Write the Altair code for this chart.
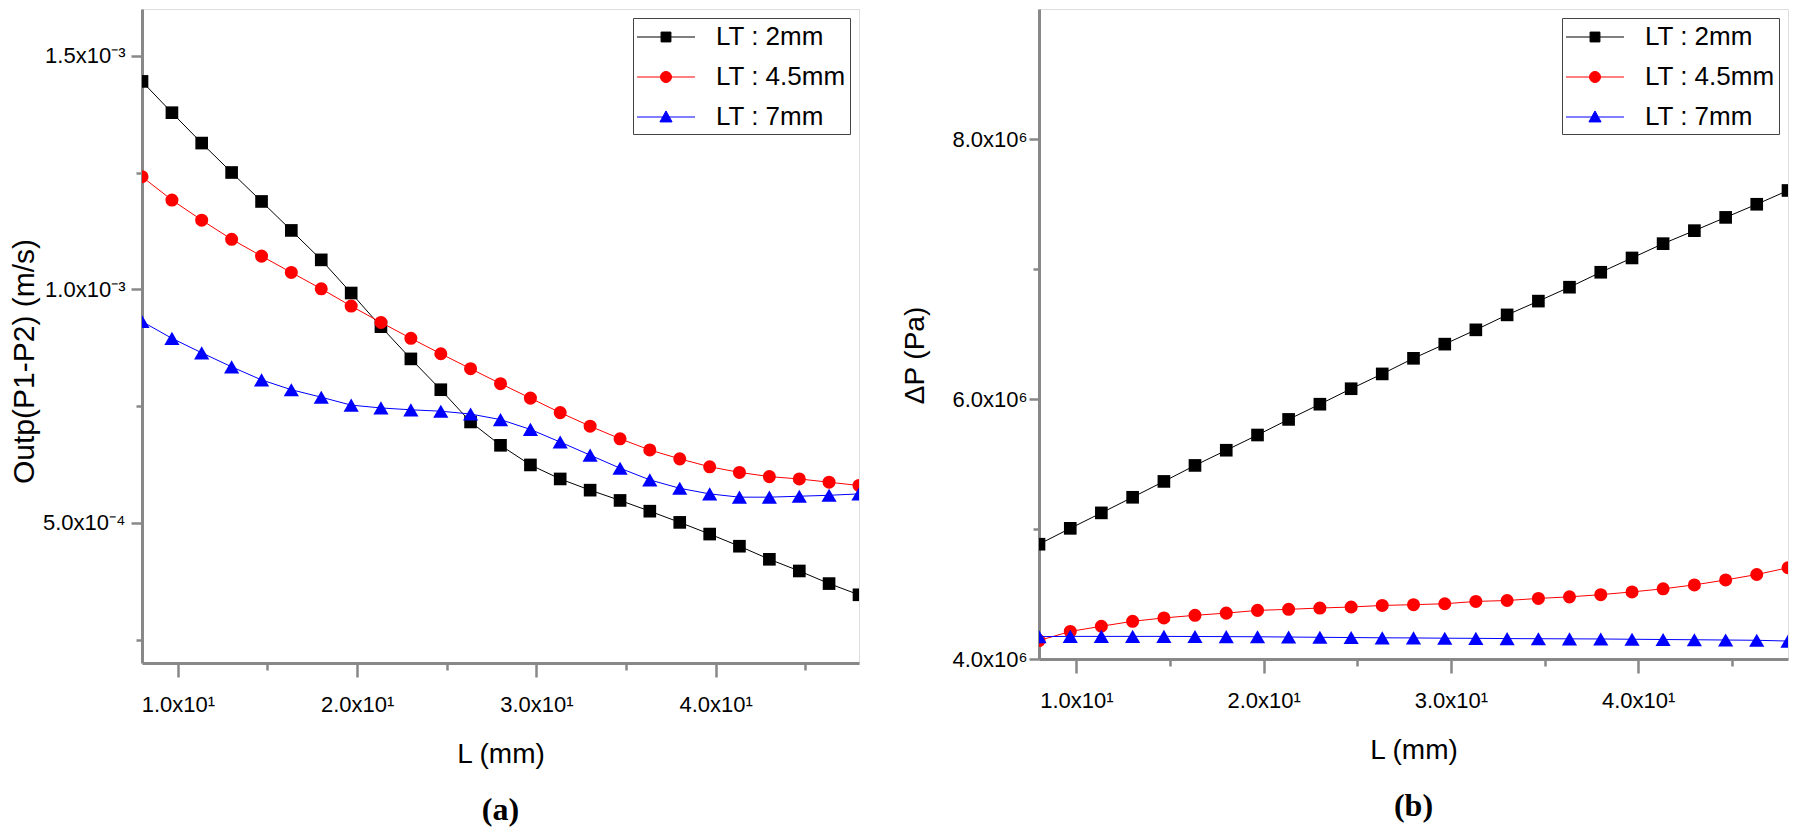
import altair as alt
import pandas as pd

# ---------------- data ----------------
L_MM = [8.0, 9.67, 11.33, 13.0, 14.67, 16.33, 18.0, 19.67, 21.33, 23.0, 24.67, 26.33,
        28.0, 29.67, 31.33, 33.0, 34.67, 36.33, 38.0, 39.67, 41.33, 43.0, 44.67, 46.33, 48.0]

SERIES = ["LT : 2mm", "LT : 4.5mm", "LT : 7mm"]

# panel (a): Outp(P1-P2) in units of 1e-3 m/s
OUT_2 = [1.445, 1.378, 1.313, 1.250, 1.188, 1.126, 1.063, 0.992, 0.920, 0.851, 0.785, 0.716,
         0.666, 0.624, 0.594, 0.570, 0.548, 0.525, 0.501, 0.476, 0.450, 0.422, 0.397, 0.370, 0.346]
OUT_45 = [1.241, 1.191, 1.148, 1.107, 1.071, 1.036, 1.001, 0.964, 0.929, 0.895, 0.862, 0.830,
          0.798, 0.767, 0.736, 0.707, 0.680, 0.656, 0.637, 0.620, 0.608, 0.599, 0.594, 0.587, 0.580]
OUT_7 = [0.931, 0.895, 0.864, 0.834, 0.806, 0.785, 0.769, 0.752, 0.746, 0.742, 0.739, 0.733,
         0.721, 0.700, 0.673, 0.645, 0.617, 0.592, 0.574, 0.562, 0.555, 0.555, 0.557, 0.559, 0.562]

# panel (b): delta P in units of 1e6 Pa
DP_2 = [4.883, 5.005, 5.124, 5.244, 5.366, 5.489, 5.606, 5.723, 5.843, 5.960, 6.079, 6.193,
        6.313, 6.422, 6.532, 6.647, 6.753, 6.860, 6.975, 7.085, 7.195, 7.295, 7.397, 7.498, 7.604]
DP_45 = [4.142, 4.212, 4.252, 4.290, 4.316, 4.336, 4.353, 4.374, 4.382, 4.392, 4.400, 4.412,
         4.418, 4.425, 4.443, 4.450, 4.466, 4.478, 4.495, 4.516, 4.540, 4.570, 4.608, 4.650, 4.702]
DP_7 = [4.172, 4.174, 4.174, 4.174, 4.174, 4.173, 4.172, 4.171, 4.169, 4.167, 4.165, 4.163,
        4.162, 4.160, 4.159, 4.157, 4.156, 4.155, 4.154, 4.152, 4.150, 4.148, 4.146, 4.144, 4.138]

# axis ticks / labels
X_MAJOR = [10, 20, 30, 40]
X_MINOR = [15, 25, 35, 45]
X_LABELS = ["1.0x10\u00b9", "2.0x10\u00b9", "3.0x10\u00b9", "4.0x10\u00b9"]

YA_MAJOR = [0.0005, 0.001, 0.0015]
YA_MINOR = [0.00025, 0.00075, 0.00125]
YA_LABELS = ["5.0x10\u207b\u2074", "1.0x10\u207b\u00b3", "1.5x10\u207b\u00b3"]

YB_MAJOR = [4000000, 6000000, 8000000]
YB_MINOR = [5000000, 7000000]
YB_LABELS = ["4.0x10\u2076", "6.0x10\u2076", "8.0x10\u2076"]

# ---------------- styles ----------------
COLORS = ["#000000", "#ff0000", "#0000ff"]
SHAPES = ["square", "circle", "triangle-up"]
SIZES = [160, 170, 230]
LEG_PATHS = [
    "M-2,0H2M-0.34,-0.34H0.34V0.34H-0.34Z",
    "M-2,0H2M0.38,0A0.38,0.38 0 1 1 -0.38,0A0.38,0.38 0 1 1 0.38,0Z",
    "M-2,0H2M0,-0.42L0.42,0.34H-0.42Z",
]
SANS = "Liberation Sans, Arial"


def build_table(vals_list, unit):
    rows = []
    for s, vals in zip(SERIES, vals_list):
        for x, v in zip(L_MM, vals):
            rows.append({"L": x, "v": v * unit, "series": s})
    return pd.DataFrame(rows)


def label_expr(vals, labels):
    out = ""
    for v, lab in zip(vals, labels):
        out += f"abs(datum.value - {v!r}) < {abs(v) * 1e-6!r} ? '{lab}' : "
    return out + "''"


def panel(df, ydom, ymaj, ymin, ylabs, ytitle, ytitle_size, caption, width, height,
          ytitle_x, ytitle_y, ylabel_pad, ytick_major):
    xs = alt.Scale(domain=[8, 48], nice=False, zero=False)
    ys = alt.Scale(domain=ydom, nice=False, zero=False)
    x_plain = alt.X("L:Q", scale=xs, axis=None)
    y_plain = alt.Y("v:Q", scale=ys, axis=None)

    layers = []
    for s, c, sh, sz in zip(SERIES, COLORS, SHAPES, SIZES):
        base = alt.Chart(df).transform_filter(alt.datum.series == s)
        layers.append(base.mark_line(color=c, strokeWidth=1, clip=True).encode(x=x_plain, y=y_plain))
        layers.append(base.mark_point(shape=sh, filled=True, color=c, size=sz, opacity=1,
                                      clip=True).encode(x=x_plain, y=y_plain))

    # major axes (with labels and titles) + legend
    x_major = alt.X("L:Q", scale=xs, axis=alt.Axis(
        orient="bottom", values=X_MAJOR, labelExpr=label_expr(X_MAJOR, X_LABELS),
        tickSize=14, tickWidth=2.5, domainWidth=3,
        title="L (mm)", titleFont=SANS, titleFontSize=28, titleFontWeight="normal",
        titlePadding=25, labelFont=SANS, labelFontSize=22, labelPadding=17,
        labelFlush=False, labelOverlap=False, grid=False))
    y_major = alt.Y("v:Q", scale=ys, axis=alt.Axis(
        orient="left", values=ymaj, labelExpr=label_expr(ymaj, ylabs),
        tickSize=ytick_major, tickWidth=2.5, domainWidth=3,
        title=ytitle, titleFont=SANS, titleFontSize=ytitle_size, titleFontWeight="normal",
        titleX=ytitle_x, titleY=ytitle_y, labelFont=SANS, labelFontSize=22,
        labelPadding=ylabel_pad, labelFlush=False, labelOverlap=False, grid=False))

    legend = alt.Legend(title=None, orient="top-right", offset=9, padding=4,
                        fillColor="white", strokeColor="#444444",
                        labelFont=SANS, labelFontSize=26, labelColor="black",
                        symbolSize=841, symbolStrokeWidth=1, symbolOffset=14,
                        labelOffset=35, rowPadding=12)
    leg_layer = alt.Chart(df).transform_filter("false").mark_point(
        filled=True, size=841, opacity=1, strokeWidth=1).encode(
        x=x_major, y=y_major,
        fill=alt.Fill("series:N", scale=alt.Scale(domain=SERIES, range=COLORS), legend=legend),
        stroke=alt.Stroke("series:N", scale=alt.Scale(domain=SERIES, range=COLORS), legend=legend),
        shape=alt.Shape("series:N", scale=alt.Scale(domain=SERIES, range=LEG_PATHS), legend=legend),
    )

    # minor ticks only
    x_minor = alt.X("L:Q", scale=xs, axis=alt.Axis(
        orient="bottom", values=X_MINOR, labels=False, domain=False, tickSize=7, tickWidth=2.5,
        title=None, grid=False))
    y_minor = alt.Y("v:Q", scale=ys, axis=alt.Axis(
        orient="left", values=ymin, labels=False, domain=False, tickSize=6, tickWidth=2.5,
        title=None, grid=False))
    minor_layer = alt.Chart(df).transform_filter("false").mark_point().encode(x=x_minor, y=y_minor)

    return alt.layer(*layers, leg_layer, minor_layer).resolve_scale(
        x="independent", y="independent"
    ).properties(
        width=width, height=height,
        title=alt.TitleParams(caption, orient="bottom", anchor="middle", font="Liberation Serif",
                              fontSize=32, fontWeight="bold", color="black", offset=27),
    )


df_a = build_table([OUT_2, OUT_45, OUT_7], 1e-3)
df_b = build_table([DP_2, DP_45, DP_7], 1e6)

pa = panel(df_a, [0.0002, 0.0016], YA_MAJOR, YA_MINOR, YA_LABELS,
           "Outp(P1-P2) (m/s)", 30, "(a)", 717, 654, -103, 352, 6, 11)
pb = panel(df_b, [4000000, 9000000], YB_MAJOR, YB_MINOR, YB_LABELS,
           "\u0394P  (Pa)", 28, "(b)", 749, 650, -110, 346, 2, 10)

chart = alt.hconcat(pa, pb, spacing=40).resolve_scale(
    fill="independent", stroke="independent", shape="independent"
).resolve_legend(
    fill="independent", stroke="independent", shape="independent"
).configure_view(
    stroke="black", strokeWidth=3
).configure_axis(
    domainColor="black", tickColor="black", labelColor="black", titleColor="black"
).configure(background="white", padding=0)

chart.save("out.html", embed_options={"renderer": "svg", "actions": False})
